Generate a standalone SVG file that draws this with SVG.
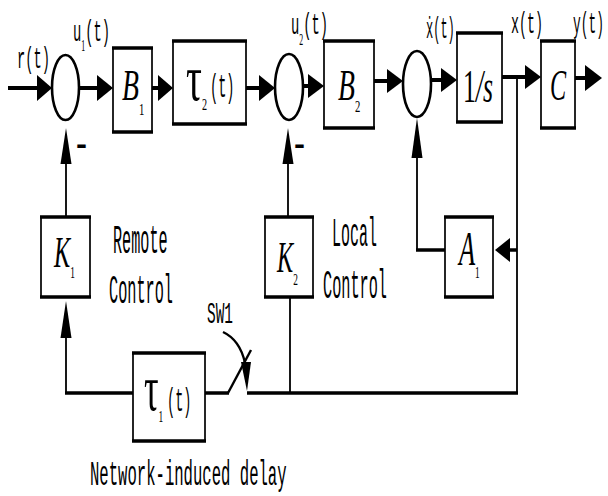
<svg xmlns="http://www.w3.org/2000/svg" width="608" height="496" viewBox="0 0 608 496">
<style>
.box{fill:#fff;stroke:#000;stroke-width:1.7}
.bar{fill:none;stroke:#000;stroke-width:3.6}
.sum{fill:#fff;stroke:#000;stroke-width:2.6}
.w{fill:none;stroke:#000;stroke-width:4}
.m{fill:none;stroke:#000;stroke-width:3.4}
.n{fill:none;stroke:#000;stroke-width:1.8}
.sw{fill:none;stroke:#000;stroke-width:2.4}
.ah{fill:#000;stroke:none}
.lab{font-family:"Liberation Mono","DejaVu Sans Mono",monospace;fill:#000}
.sym{font-family:"Liberation Serif","DejaVu Serif",serif;font-style:italic;fill:#000}
.up{font-family:"Liberation Serif","DejaVu Serif",serif;font-style:normal;fill:#000}
.sub{font-family:"Liberation Serif","DejaVu Serif",serif;font-style:normal;font-size:17px}
.minus{font-family:"Liberation Sans",Arial,sans-serif;font-weight:bold;fill:#000}
</style>
<rect width="608" height="496" fill="#fff"/>

<g id="connectors">
  <path class="w" d="M8 88H38 M79 88H98 M152 88H159 M246 88H260 M303 86H309 M374 81H388 M431 80H442 M502 77H526 M575 78H587"/>
  <polygon class="ah" points="37,75 52,88 37,101"/>
  <polygon class="ah" points="97,75 113,88 97,101"/>
  <polygon class="ah" points="158,75 173,88 158,101"/>
  <polygon class="ah" points="259,75 275,88 259,101"/>
  <polygon class="ah" points="308,74 324,86 308,98"/>
  <polygon class="ah" points="387,69 403,81 387,93"/>
  <polygon class="ah" points="441,68 457,80 441,92"/>
  <polygon class="ah" points="525,65 541,77 525,89"/>
  <polygon class="ah" points="585,65 602,78 585,91"/>
  <path class="n" d="M66 163V217 M288 163V217 M66 337V393 M290 297V393 M417 158V251 M517 77V394"/>
  <polygon class="ah" points="60.5,164 66,128 71.5,164"/>
  <polygon class="ah" points="282.5,164 288,128 293.5,164"/>
  <polygon class="ah" points="411.5,158 417,118 422.5,158"/>
  <polygon class="ah" points="60.5,338 66,301 71.5,338"/>
  <path class="m" d="M416 250H445 M517 250H508"/>
  <polygon class="ah" points="510,238 495,250 510,262"/>
  <path class="m" d="M65 393H133 M205 393H229 M247 393H518"/>
  <line class="sw" x1="228" y1="393" x2="251" y2="350"/>
  <path class="sw" d="M223 332Q240 340 245 363"/>
  <polygon class="ah" points="241,362 251,362 247,391"/>
</g>

<g id="sum1"><ellipse class="sum" cx="65.5" cy="87.5" rx="13.5" ry="32.5"/></g>
<g id="sum2"><ellipse class="sum" cx="289" cy="87" rx="14" ry="33"/></g>
<g id="sum3"><ellipse class="sum" cx="417" cy="84" rx="14" ry="33"/></g>

<g id="B1">
  <rect class="box" x="113" y="48" width="39" height="84"/>
  <path class="bar" d="M112 48H153 M112 132H153"/>
  <text class="sym" font-size="44" transform="translate(122,100) scale(0.63,1)">B<tspan class="sub" dy="15">1</tspan></text>
</g>
<g id="tau2">
  <rect class="box" x="173" y="41" width="73" height="83"/>
  <path class="bar" d="M172 41H247 M172 124H247"/>
  <text class="up" font-size="66" transform="translate(186,100) scale(0.6,1)">τ<tspan class="sub" dy="10">2</tspan></text>
  <text class="lab" font-size="34" transform="translate(210,97) scale(0.4,1)">(t)</text>
</g>
<g id="B2">
  <rect class="box" x="324" y="41" width="50" height="87"/>
  <path class="bar" d="M323 41H375 M323 128H375"/>
  <text class="sym" font-size="44" transform="translate(338,100) scale(0.63,1)">B<tspan class="sub" dy="12">2</tspan></text>
</g>
<g id="integrator">
  <rect class="box" x="457" y="33" width="45" height="89"/>
  <path class="bar" d="M456 33H503 M456 122H503"/>
  <text class="up" font-size="46" transform="translate(463,102) scale(0.56,1)">1<tspan class="sym">/s</tspan></text>
</g>
<g id="C">
  <rect class="box" x="541" y="41" width="34" height="87"/>
  <path class="bar" d="M540 41H576 M540 128H576"/>
  <text class="sym" font-size="44" transform="translate(550,100) scale(0.55,1)">C</text>
</g>
<g id="K1">
  <rect class="box" x="41" y="217" width="49" height="80"/>
  <path class="bar" d="M40 217H91 M40 297H91"/>
  <text class="sym" font-size="44" transform="translate(54,267) scale(0.55,1)">K<tspan class="sub" dy="11">1</tspan></text>
</g>
<g id="K2">
  <rect class="box" x="265" y="217" width="48" height="80"/>
  <path class="bar" d="M264 217H314 M264 297H314"/>
  <text class="sym" font-size="44" transform="translate(277,272) scale(0.55,1)">K<tspan class="sub" dy="13">2</tspan></text>
</g>
<g id="A1">
  <rect class="box" x="445" y="217" width="48" height="80"/>
  <path class="bar" d="M444 217H494 M444 297H494"/>
  <text class="sym" font-size="48" transform="translate(459,265) scale(0.55,1)">A<tspan class="sub" dy="13">1</tspan></text>
</g>
<g id="tau1">
  <rect class="box" x="133" y="353" width="72" height="88"/>
  <path class="bar" d="M132 353H206 M132 441H206"/>
  <text class="up" font-size="66" transform="translate(144,410) scale(0.55,1)">τ<tspan class="sub" dy="12">1</tspan></text>
  <text class="lab" font-size="34" transform="translate(167,411) scale(0.4,1)">(t)</text>
</g>

<g id="labels">
  <text class="lab" font-size="30" transform="translate(17,68) scale(0.458,1)">r(t)</text>
  <text class="lab" font-size="30" transform="translate(73,41) scale(0.46,1)">u<tspan class="sub" dy="10">1</tspan><tspan dy="-10">(t)</tspan></text>
  <text class="lab" font-size="30" transform="translate(291,34) scale(0.46,1)">u<tspan class="sub" dy="11">2</tspan><tspan dy="-11">(t)</tspan></text>
  <text class="lab" font-size="30" transform="translate(426,38) scale(0.40,1)">ẋ(t)</text>
  <text class="lab" font-size="30" transform="translate(511,33) scale(0.444,1)">x(t)</text>
  <text class="lab" font-size="30" transform="translate(573,33) scale(0.43,1)">y(t)</text>
  <text class="minus" font-size="30" transform="translate(76,154) scale(1.1,1)">-</text>
  <text class="minus" font-size="30" transform="translate(294,154) scale(1.1,1)">-</text>
  <text class="lab" font-size="40" transform="translate(113,253) scale(0.38,1)">Remote</text>
  <text class="lab" font-size="40" transform="translate(109,303) scale(0.381,1)">Control</text>
  <text class="lab" font-size="40" transform="translate(332,246) scale(0.375,1)">Local</text>
  <text class="lab" font-size="40" transform="translate(323,298) scale(0.381,1)">Control</text>
  <text class="lab" font-size="30" transform="translate(207,323) scale(0.48,1)">SW1</text>
  <text class="lab" font-size="35" transform="translate(90,485) scale(0.446,1)">Network-induced delay</text>
</g>
</svg>
